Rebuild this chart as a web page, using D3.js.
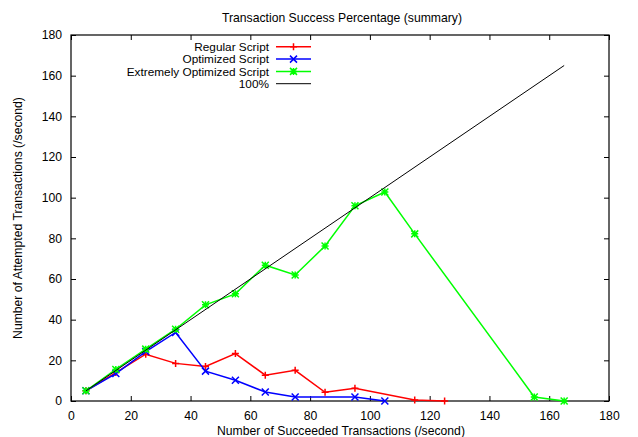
<!DOCTYPE html>
<html>
<head>
<meta charset="utf-8">
<script src="https://cdn.jsdelivr.net/npm/d3@7"></script>
<style>
  body { margin: 0; background: #fff; }
  text { font-family: "Liberation Sans", Arial, sans-serif; font-size: 12px; fill: #000; }
</style>
</head>
<body>
<svg width="638" height="437"></svg>
<script>
// data
const regularX = [5, 15, 25, 35, 45, 55, 65, 75, 85, 95, 115, 125];
const regularY = [5, 14, 23, 18.5, 17, 23.3, 12.7, 15.1, 4.3, 6.3, 0.5, 0];
const optX = [5, 15, 25, 35, 45, 55, 65, 75, 95, 105];
const optY = [5, 13.5, 24.3, 33.7, 14.7, 10.2, 4.4, 2, 2, 0];
const extX = [5, 15, 25, 35, 45, 55, 65, 75, 85, 95, 105, 115, 155, 165];
const extY = [5, 15.5, 25.5, 35.3, 47.3, 52.7, 66.8, 62, 76.2, 96, 102.8, 82.2, 2, 0];
const idealX = [5, 165];
const idealY = [5, 165];
const xTicks = [0, 20, 40, 60, 80, 100, 120, 140, 160, 180];
const yTicks = [0, 20, 40, 60, 80, 100, 120, 140, 160, 180];

const series = [
  { name: "Regular Script", xs: regularX, ys: regularY, color: "#ff0000", mark: "plus" },
  { name: "Optimized Script", xs: optX, ys: optY, color: "#0000ff", mark: "cross" },
  { name: "Extremely Optimized Script", xs: extX, ys: extY, color: "#00ff00", mark: "star" },
  { name: "100%", xs: idealX, ys: idealY, color: "#000000", mark: null }
];

const fs = "12.2px";
const svg = d3.select("svg");
const pL = 71, pR = 609, pT = 35, pB = 401;

const x = d3.scaleLinear().domain([0, 180]).range([pL, pR]);
const y = d3.scaleLinear().domain([0, 180]).range([pB, pT]);

// ticks (gnuplot style: inward, mirrored)
const tl = 5;
svg.append("g").attr("transform", `translate(0,${pB})`)
  .call(d3.axisBottom(x).tickValues(xTicks).tickSize(-tl).tickPadding(10))
  .call(g => g.select(".domain").remove());
svg.append("g").attr("transform", `translate(0,${pT})`)
  .call(d3.axisTop(x).tickValues(xTicks).tickSize(-tl).tickFormat(""))
  .call(g => g.select(".domain").remove());
svg.append("g").attr("transform", `translate(${pL},0)`)
  .call(d3.axisLeft(y).tickValues(yTicks).tickSize(-tl).tickPadding(9))
  .call(g => g.select(".domain").remove());
svg.append("g").attr("transform", `translate(${pR},0)`)
  .call(d3.axisRight(y).tickValues(yTicks).tickSize(-tl).tickFormat(""))
  .call(g => g.select(".domain").remove());
svg.selectAll(".tick line").attr("stroke", "#000");
svg.selectAll(".tick text").style("font-family", "'Liberation Sans', Arial, sans-serif").style("font-size", fs);

svg.append("rect").attr("x", pL).attr("y", pT)
  .attr("width", pR - pL).attr("height", pB - pT)
  .attr("fill", "none").attr("stroke", "#000").attr("stroke-width", 1.2);

function marker(g, kind, cx, cy, color) {
  const s = 3.5;
  const p = d3.path();
  if (kind === "plus" || kind === "star") {
    p.moveTo(cx - s, cy); p.lineTo(cx + s, cy);
    p.moveTo(cx, cy - s); p.lineTo(cx, cy + s);
  }
  if (kind === "cross" || kind === "star") {
    p.moveTo(cx - s, cy - s); p.lineTo(cx + s, cy + s);
    p.moveTo(cx - s, cy + s); p.lineTo(cx + s, cy - s);
  }
  g.append("path").attr("d", p.toString()).attr("stroke", color)
    .attr("stroke-width", 1.5).attr("fill", "none");
}

const line = d3.line().x(d => x(d[0])).y(d => y(d[1]));

series.forEach(s => {
  const pts = s.xs.map((v, i) => [v, s.ys[i]]);
  const g = svg.append("g");
  g.append("path").datum(pts).attr("d", line)
    .attr("fill", "none").attr("stroke", s.color)
    .attr("stroke-width", s.mark ? 1.5 : 1);
  if (s.mark) pts.forEach(d => marker(g, s.mark, x(d[0]), y(d[1]), s.color));
});

// legend
const lg = svg.append("g");
series.forEach((s, i) => {
  const ly = 46.8 + i * 12.3;
  lg.append("text").attr("x", 269).attr("y", ly).attr("dy", "0.35em")
    .attr("text-anchor", "end").style("font-size", "11.8px").text(s.name);
  lg.append("line").attr("x1", 276).attr("x2", 311).attr("y1", ly).attr("y2", ly)
    .attr("stroke", s.color).attr("stroke-width", s.mark ? 1.5 : 1);
  if (s.mark) marker(lg, s.mark, 293.5, ly, s.color);
});

// titles
svg.append("text").attr("x", 342).attr("y", 22).attr("text-anchor", "middle")
  .style("font-size", fs).text("Transaction Success Percentage (summary)");
svg.append("text").attr("x", 341).attr("y", 434.5).attr("text-anchor", "middle")
  .style("font-size", fs).text("Number of Succeeded Transactions (/second)");
svg.append("text").attr("transform", "translate(22,218) rotate(-90)")
  .attr("text-anchor", "middle").style("font-size", fs)
  .text("Number of Attempted Transactions (/second)");
</script>
</body>
</html>
